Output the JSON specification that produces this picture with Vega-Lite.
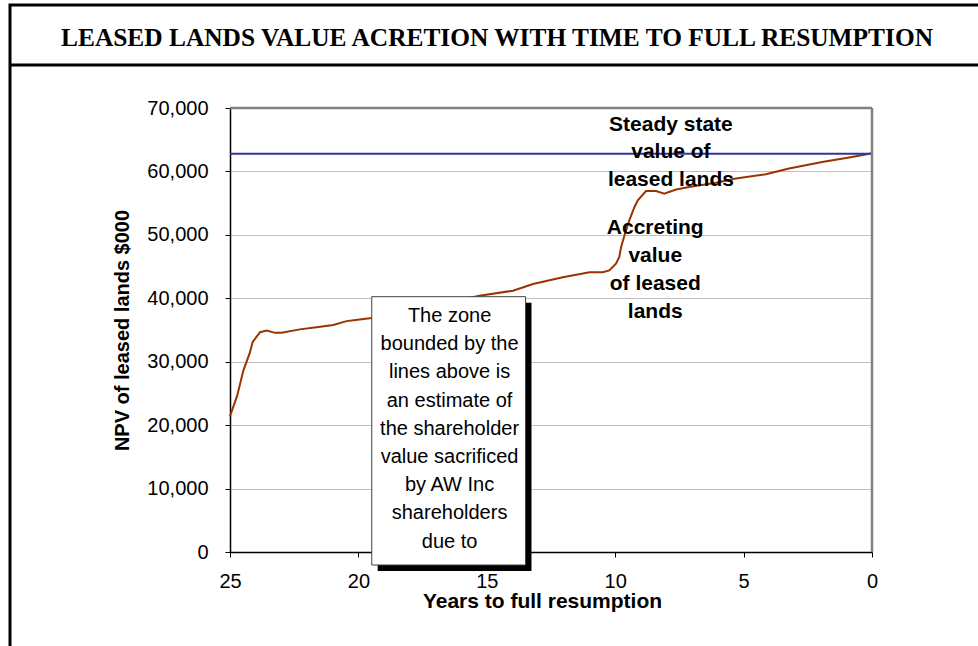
{
  "$schema": "https://vega.github.io/schema/vega-lite/v6.json",
  "width": 968,
  "height": 641,
  "autosize": {"type": "none"},
  "padding": {"left": 10, "top": 5, "right": 0, "bottom": 0},
  "background": "white",
  "config": {
    "view": {"stroke": "black", "strokeWidth": 3, "strokeDash": [968, 1609, 641]},
    "font": "Liberation Sans"
  },
  "title": {
    "text": "LEASED LANDS VALUE ACRETION WITH TIME TO FULL RESUMPTION",
    "font": "Liberation Serif",
    "fontSize": 25.4,
    "fontWeight": "bold",
    "color": "black",
    "anchor": "middle",
    "frame": "group",
    "baseline": "middle",
    "offset": 0,
    "dy": 58,
    "dx": 3
  },
  "datasets": {
    "npv": [
      {"year": 25.0, "npv": 21400},
      {"year": 24.72, "npv": 24650},
      {"year": 24.48, "npv": 28600},
      {"year": 24.22, "npv": 31500},
      {"year": 24.12, "npv": 33100},
      {"year": 23.83, "npv": 34650},
      {"year": 23.57, "npv": 34900},
      {"year": 23.25, "npv": 34550},
      {"year": 22.99, "npv": 34550},
      {"year": 22.28, "npv": 35100},
      {"year": 21.63, "npv": 35450},
      {"year": 20.98, "npv": 35800},
      {"year": 20.46, "npv": 36400},
      {"year": 19.95, "npv": 36650},
      {"year": 19.49, "npv": 36900},
      {"year": 15.28, "npv": 40400},
      {"year": 13.98, "npv": 41200},
      {"year": 13.2, "npv": 42250},
      {"year": 12.04, "npv": 43300},
      {"year": 11.0, "npv": 44100},
      {"year": 10.49, "npv": 44100},
      {"year": 10.23, "npv": 44400},
      {"year": 9.97, "npv": 45450},
      {"year": 9.84, "npv": 46500},
      {"year": 9.77, "npv": 48100},
      {"year": 9.64, "npv": 49900},
      {"year": 9.45, "npv": 52300},
      {"year": 9.25, "npv": 54400},
      {"year": 9.12, "npv": 55450},
      {"year": 8.8, "npv": 56900},
      {"year": 8.41, "npv": 56900},
      {"year": 8.09, "npv": 56500},
      {"year": 7.63, "npv": 57150},
      {"year": 7.12, "npv": 57550},
      {"year": 6.08, "npv": 58200},
      {"year": 5.3, "npv": 58900},
      {"year": 4.13, "npv": 59550},
      {"year": 3.23, "npv": 60450},
      {"year": 1.94, "npv": 61500},
      {"year": 0.89, "npv": 62200},
      {"year": 0.0, "npv": 62850}
    ],
    "steady": [
      {"year": 25, "npv": 62800},
      {"year": 0, "npv": 62800}
    ]
  },
  "layer": [
    {
      "data": {"name": "npv"},
      "mark": {"type": "line", "color": "#993300", "strokeWidth": 2},
      "encoding": {
        "x": {
          "field": "year",
          "type": "quantitative",
          "scale": {"domain": [25, 0], "range": [220, 862], "nice": false, "zero": false},
          "axis": {
            "title": "Years to full resumption",
            "orient": "bottom",
            "offset": -94,
            "values": [25, 20, 15, 10, 5, 0],
            "grid": false,
            "domainColor": "black",
            "domainWidth": 1.5,
            "tickColor": "black",
            "tickSize": 5,
            "labelFontSize": 20,
            "labelColor": "black",
            "labelPadding": 14,
            "labelFlush": false,
            "titleFontSize": 21,
            "titleFontWeight": "bold",
            "titleColor": "black",
            "titleX": 532,
            "titleY": 49,
            "titleBaseline": "middle"
          }
        },
        "y": {
          "field": "npv",
          "type": "quantitative",
          "scale": {"domain": [0, 70000], "range": [547, 103], "nice": false},
          "axis": {
            "title": "NPV of leased lands $000",
            "orient": "left",
            "offset": -220,
            "values": [0, 10000, 20000, 30000, 40000, 50000, 60000, 70000],
            "format": ",d",
            "grid": true,
            "gridColor": "#c0c0c0",
            "gridWidth": 1,
            "domainColor": "black",
            "domainWidth": 1.5,
            "tickColor": "black",
            "tickSize": 5,
            "labelFontSize": 20,
            "labelColor": "black",
            "labelPadding": 17,
            "titleFontSize": 20,
            "titleFontWeight": "bold",
            "titleColor": "black",
            "titleX": -108,
            "titleY": 325,
            "titleBaseline": "middle"
          }
        }
      }
    },
    {
      "data": {"name": "steady"},
      "mark": {"type": "line", "color": "#333399", "strokeWidth": 2},
      "encoding": {
        "x": {"field": "year", "type": "quantitative"},
        "y": {"field": "npv", "type": "quantitative"}
      }
    },
    {
      "data": {"values": [{}]},
      "mark": {"type": "rule", "color": "#808080", "strokeWidth": 2.5},
      "encoding": {
        "x": {"datum": 25, "type": "quantitative"},
        "x2": {"datum": 0},
        "y": {"datum": 70000, "type": "quantitative"}
      }
    },
    {
      "data": {"values": [{}]},
      "mark": {"type": "rule", "color": "#808080", "strokeWidth": 2.5},
      "encoding": {
        "x": {"datum": 0, "type": "quantitative"},
        "y": {"datum": 0, "type": "quantitative"},
        "y2": {"datum": 70000}
      }
    },
    {
      "data": {"values": [{}]},
      "mark": {"type": "rule", "color": "black", "strokeWidth": 3},
      "encoding": {
        "y": {"datum": 76779, "type": "quantitative"}
      }
    },
    {
      "data": {"values": [{}]},
      "mark": {"type": "rect", "color": "black"},
      "encoding": {
        "x": {"datum": 19.25, "type": "quantitative"},
        "x2": {"datum": 13.26},
        "y": {"datum": 39300, "type": "quantitative"},
        "y2": {"datum": -3000}
      }
    },
    {
      "data": {"values": [{}]},
      "mark": {"type": "rect", "fill": "white", "stroke": "#404040", "strokeWidth": 1},
      "encoding": {
        "x": {"datum": 19.48, "type": "quantitative"},
        "x2": {"datum": 13.49},
        "y": {"datum": 40250, "type": "quantitative"},
        "y2": {"datum": -2050}
      }
    },
    {
      "data": {"values": [{}]},
      "mark": {
        "type": "text",
        "text": ["The zone", "bounded by the", "lines above is", "an estimate of", "the shareholder", "value sacrificed", "by AW Inc", "shareholders", "due to"],
        "fontSize": 20,
        "lineHeight": 28.2,
        "align": "center",
        "baseline": "middle",
        "color": "black"
      },
      "encoding": {
        "x": {"datum": 16.45, "type": "quantitative"},
        "y": {"datum": 37207, "type": "quantitative"}
      }
    },
    {
      "data": {"values": [{}]},
      "mark": {
        "type": "text",
        "text": ["Steady state", "value of", "leased lands"],
        "fontSize": 21,
        "fontWeight": "bold",
        "lineHeight": 27.5,
        "align": "center",
        "baseline": "middle",
        "color": "black"
      },
      "encoding": {
        "x": {"datum": 7.83, "type": "quantitative"},
        "y": {"datum": 67320, "type": "quantitative"}
      }
    },
    {
      "data": {"values": [{}]},
      "mark": {
        "type": "text",
        "text": ["Accreting", "value", "of leased", "lands"],
        "fontSize": 21,
        "fontWeight": "bold",
        "lineHeight": 27.9,
        "align": "center",
        "baseline": "middle",
        "color": "black"
      },
      "encoding": {
        "x": {"datum": 8.44, "type": "quantitative"},
        "y": {"datum": 51081, "type": "quantitative"}
      }
    }
  ]
}
